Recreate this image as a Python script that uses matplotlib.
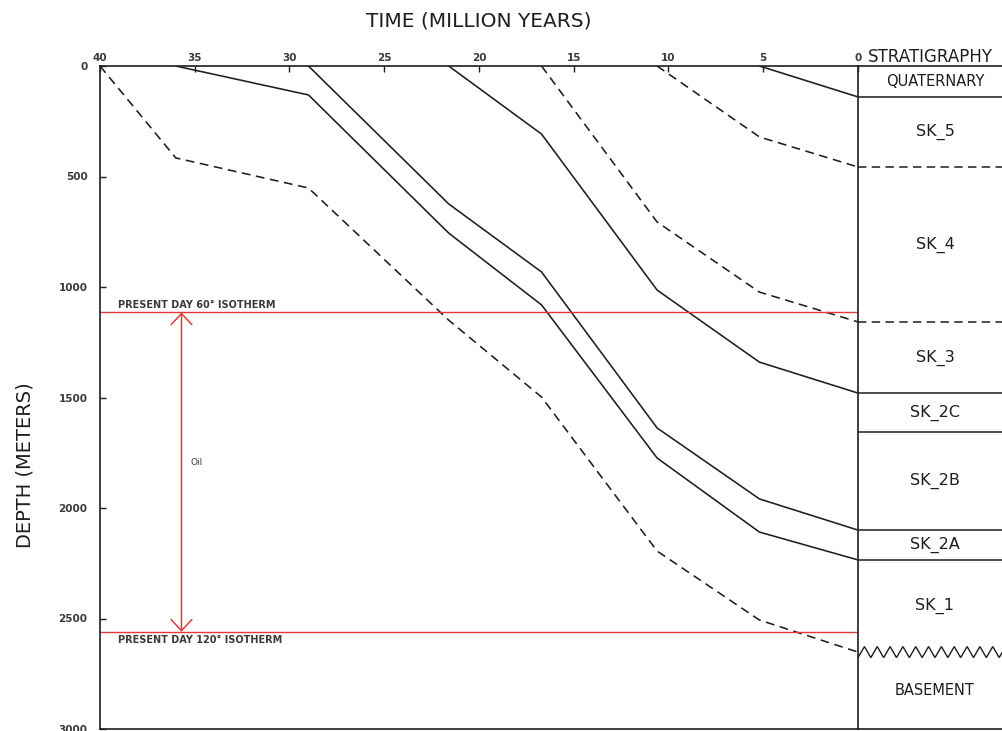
import matplotlib
matplotlib.use("Agg")
import matplotlib.pyplot as plt

# Ages (Ma) at which horizon depths were reconstructed
ages = [40, 36, 29, 21.6, 16.7, 10.6, 5.2, 0]

# Burial depth (m) of each horizon; None = not yet deposited
basement_top = [0, 416, 552, 1150, 1498, 2195, 2507, 2652]
sk1_top = [None, 0, 131, 756, 1081, 1774, 2109, 2235]
sk2a_top = [None, None, 0, 624, 932, 1638, 1959, 2100]
sk2c_top = [None, None, None, 0, 308, 1014, 1340, 1480]
sk3_top = [None, None, None, None, 0, 706, 1023, 1158]
sk4_top = [None, None, None, None, None, 0, 321, 457]
sk5_top = [None, None, None, None, None, None, 0, 140]

horizons = [
    (basement_top, "--"),
    (sk1_top, "-"),
    (sk2a_top, "-"),
    (sk2c_top, "-"),
    (sk3_top, "--"),
    (sk4_top, "--"),
    (sk5_top, "-"),
]

# Stratigraphic column (present day)
units = ["QUATERNARY", "SK_5", "SK_4", "SK_3", "SK_2C", "SK_2B", "SK_2A", "SK_1", "BASEMENT"]
unit_bases = [140, 457, 1158, 1480, 1656, 2100, 2235, 2652, 3000]
base_styles = ["-", "--", "--", "-", "-", "-", "-", "zigzag", None]

# Present-day isotherm depths (m)
iso60 = 1115
iso120 = 2560

time_ticks = [40, 35, 30, 25, 20, 15, 10, 5, 0]
depth_ticks = [0, 500, 1000, 1500, 2000, 2500, 3000]

W, H = 1003, 731
fig = plt.figure(figsize=(W / 100, H / 100), dpi=100)
fig.patch.set_facecolor("white")
plt.rcParams["font.family"] = ["DejaVu Sans"]


def fx(px):
    return px / W


def fy(py):
    return 1 - py / H


ink = "#1e1e1e"
red = "#e5383b"
grey = "#3a3a3a"

ax = fig.add_axes([fx(100), fy(729), fx(858) - fx(100), fy(66) - fy(729)])
ax.set_xlim(40, 0)
ax.set_ylim(3000, 0)
ax.xaxis.tick_top()
ax.set_xticks(time_ticks)
ax.set_xticklabels([str(t) for t in time_ticks])
ax.set_yticks(depth_ticks)
ax.set_yticklabels([str(d) for d in depth_ticks])
ax.tick_params(axis="both", direction="in", length=4, width=1, color=ink,
               labelsize=7.5, labelcolor=grey)
ax.tick_params(axis="x", pad=2)
ax.tick_params(axis="y", pad=9)
for lab in ax.get_xticklabels() + ax.get_yticklabels():
    lab.set_fontweight("bold")
for s in ax.spines.values():
    s.set_color(ink)
    s.set_linewidth(1.2)

# Burial curves
for depths, ls in horizons:
    xs = [a for a, d in zip(ages, depths) if d is not None]
    ys = [d for d in depths if d is not None]
    line, = ax.plot(xs, ys, color=ink, lw=1.15, ls=ls, solid_joinstyle="miter")
    if ls == "--":
        line.set_dashes((5.5, 3.5))

# Isotherms and oil window
ax.axhline(iso60, color=red, lw=1.0)
ax.axhline(iso120, color=red, lw=1.0)
ax.annotate("", xy=(35.7, iso60), xytext=(35.7, iso120),
            arrowprops=dict(arrowstyle="<->,head_length=0.8,head_width=0.75",
                            color=red, lw=1.1, shrinkA=0, shrinkB=0))
ax.text(35.25, 1792, "Oil", fontsize=6.5, color=grey, va="center", ha="left")
ax.text(39.05, iso60 - 12, "PRESENT DAY 60° ISOTHERM", fontsize=7,
        color=grey, va="bottom", ha="left", fontweight="bold")
ax.text(39.05, iso120 + 14, "PRESENT DAY 120° ISOTHERM", fontsize=7,
        color=grey, va="top", ha="left", fontweight="bold")

# Stratigraphic column
col = fig.add_axes([fx(858), fy(729), fx(1012) - fx(858), fy(66) - fy(729)])
col.set_xlim(0, 1)
col.set_ylim(3000, 0)
col.set_xticks([])
col.set_yticks([])
col.patch.set_alpha(0)
col.spines["right"].set_visible(False)
col.spines["left"].set_visible(False)
for side in ("top", "bottom"):
    col.spines[side].set_color(ink)
    col.spines[side].set_linewidth(1.2)

top = 0
for name, base, style in zip(units, unit_bases, base_styles):
    mid = (top + base) / 2
    size = 10.5 if name in ("QUATERNARY", "BASEMENT") else 11.5
    col.text(0.5, mid, name, ha="center", va="center", fontsize=size, color=ink)
    if style == "zigzag":
        n = 24
        zx = [i / n for i in range(n + 1)]
        zy = [base + (-25 if i % 2 else 25) for i in range(n + 1)]
        col.plot(zx, zy, color=ink, lw=1.0, solid_joinstyle="miter")
    elif style is not None:
        ln, = col.plot([0, 1], [base, base], color=ink, lw=1.1, ls=style)
        if style == "--":
            ln.set_dashes((5.5, 3.5))
    top = base

fig.text(fx(868), fy(57), "STRATIGRAPHY", fontsize=12, color=ink,
         ha="left", va="center")
fig.text(fx(479), fy(21), "TIME (MILLION YEARS)", fontsize=14.5, color=ink,
         ha="center", va="center")
fig.text(fx(25), fy(465), "DEPTH (METERS)", fontsize=14, color=ink,
         rotation=90, ha="center", va="center")

fig.savefig("out.png", dpi=100, facecolor="white")
